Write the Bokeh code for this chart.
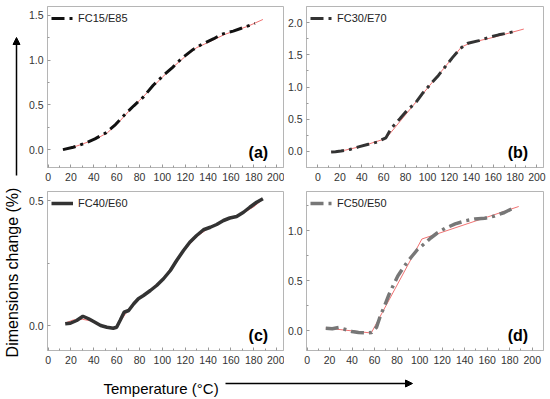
import math
from bokeh.plotting import figure
from bokeh.layouts import row, column
from bokeh.models import Range1d, FixedTicker, PrintfTickFormatter, Label, Arrow, NormalHead
from bokeh.embed import file_html
from bokeh.resources import INLINE
from bokeh.core.properties import value

FONT = "Liberation Sans"

# ---------------- data ----------------
x_ticks = [0, 20, 40, 60, 80, 100, 120, 140, 160, 180, 200]

a_x = [13, 22, 32, 41, 51, 59, 67, 75, 83.5, 92, 101, 109, 117, 127, 135, 145, 152, 162, 172, 181]
a_y = [0.0, 0.026, 0.07, 0.12, 0.19, 0.28, 0.39, 0.49, 0.59, 0.72, 0.83, 0.92, 1.02, 1.12, 1.18, 1.24, 1.29, 1.325, 1.37, 1.41]
a_fit_x = [13, 25, 35, 45, 52, 60, 70, 80, 90, 100, 110, 120, 130, 137, 145, 155, 165, 175, 188]
a_fit_y = [0.0, 0.04, 0.085, 0.14, 0.19, 0.28, 0.42, 0.55, 0.68, 0.81, 0.93, 1.04, 1.14, 1.18, 1.23, 1.29, 1.335, 1.38, 1.455]

b_x = [12, 16, 21, 29, 37, 46, 54, 62, 67, 75, 82, 89, 95, 103, 110, 116, 123, 130, 137, 147, 156, 165, 174, 180]
b_y = [-0.01, -0.005, 0.005, 0.03, 0.07, 0.11, 0.145, 0.21, 0.36, 0.51, 0.65, 0.75, 0.89, 1.05, 1.18, 1.31, 1.46, 1.6, 1.68, 1.72, 1.77, 1.81, 1.84, 1.865]
b_fit_x = [12, 25, 40, 62, 131, 140, 160, 188]
b_fit_y = [-0.01, 0.02, 0.08, 0.2, 1.62, 1.69, 1.77, 1.9]

c_x = [15, 19.5, 25, 30.5, 35.5, 41, 46, 51.5, 57, 60, 63, 66.5, 70.5, 75, 79, 83.5, 89.5, 95, 101, 107,
       112.5, 118.5, 124, 130, 136, 142, 147.5, 153.5, 159, 165, 171, 176.5, 182.5, 188]
c_y = [0.007, 0.009, 0.02, 0.037, 0.027, 0.013, 0.0, -0.007, -0.011, -0.007, 0.02, 0.053, 0.06, 0.087, 0.107,
       0.12, 0.14, 0.16, 0.187, 0.22, 0.26, 0.30, 0.333, 0.36, 0.383, 0.393, 0.404, 0.42, 0.43, 0.436, 0.453,
       0.473, 0.493, 0.507]
c_fit_x = [15, 22, 30, 38, 46, 54, 60, 66, 72, 80, 90, 100, 110, 120, 130, 140, 150, 160, 170, 180, 188]
c_fit_y = [0.01, 0.022, 0.025, 0.018, 0.003, -0.01, -0.006, 0.035, 0.075, 0.11, 0.145, 0.185, 0.245, 0.305,
           0.355, 0.388, 0.41, 0.428, 0.447, 0.475, 0.505]

d_x = [16.6, 22.4, 28.2, 34.1, 39.9, 45.7, 53, 57.4, 61.7, 65.2, 69, 72.8, 76.9, 80.6, 85, 89.4, 93.7, 98.1,
       103.9, 109.8, 115.6, 122.9, 131.6, 140.3, 149, 157.8, 166.5, 175.3, 184]
d_y = [0.023, 0.017, 0.03, 0.01, -0.01, -0.02, -0.023, -0.02, 0.033, 0.15, 0.25, 0.36, 0.46, 0.545, 0.62, 0.69,
       0.75, 0.81, 0.865, 0.925, 0.975, 1.023, 1.066, 1.096, 1.115, 1.122, 1.145, 1.18, 1.23]
d_fit_x = [16.6, 57, 102, 188]
d_fit_y = [0.025, -0.025, 0.915, 1.24]

FRAME = "#b5b5b5"
RED = "#f07272"


def panel(width, height, mbl, mbr, mbt, mbb, xr, yr, yticks, yminor, letter,
          sx, sy, fx, fy, name, color, dash, lw):
    p = figure(width=width, height=height, x_range=Range1d(*xr), y_range=Range1d(*yr),
               output_backend="svg", toolbar_location=None,
               min_border_left=mbl, min_border_right=mbr, min_border_top=mbt, min_border_bottom=mbb)
    p.xgrid.visible = False
    p.ygrid.visible = False
    p.outline_line_color = FRAME
    p.background_fill_color = "white"
    p.border_fill_color = "white"
    x_minor = [v + 10 for v in x_ticks[:-1]]
    p.xaxis.ticker = FixedTicker(ticks=x_ticks, minor_ticks=x_minor)
    p.yaxis.ticker = FixedTicker(ticks=yticks, minor_ticks=yminor)
    p.yaxis.formatter = PrintfTickFormatter(format="%.1f")
    for ax in (p.xaxis, p.yaxis):
        ax.axis_line_color = FRAME
        ax.major_tick_line_color = "#999999"
        ax.minor_tick_line_color = "#999999"
        ax.major_tick_in = 3
        ax.major_tick_out = 0
        ax.minor_tick_in = 2
        ax.minor_tick_out = 0
        ax.major_label_text_font = FONT
        ax.major_label_text_font_size = "10.5px"
        ax.major_label_text_color = "#333333"
        ax.major_label_standoff = 4
    p.xaxis.major_label_standoff = 5

    p.line(fx, fy, line_color=RED, line_width=1)
    p.line(sx, sy, line_color=color, line_width=lw, line_dash=dash, legend_label=name)

    lg = p.legend[0]
    lg.location = "top_left"
    lg.border_line_alpha = 0
    lg.background_fill_alpha = 0
    lg.label_text_font = FONT
    lg.label_text_font_size = "11px"
    lg.label_text_color = "#222222"
    lg.glyph_width = 22
    lg.glyph_height = 10
    lg.label_height = 16
    lg.label_standoff = 5
    lg.padding = 2
    lg.margin = 2
    lg.spacing = 0

    xspan = xr[1] - xr[0]
    yspan = yr[1] - yr[0]
    p.add_layout(Label(x=xr[1] - 0.065 * xspan, y=yr[0] + 0.042 * yspan, text=letter,
                       text_font=FONT, text_font_style="bold", text_font_size="16px",
                       text_color="black", text_align="right", text_baseline="bottom"))
    return p


# top row: frames at y 6..167 ; bottom row: frames at y 191..350
pa = panel(260, 188, 23, 1, 6, 21, (-0.5, 206), (-0.2, 1.6), [0, 0.5, 1.0, 1.5], [0.25, 0.75, 1.25],
           "(a)", a_x, a_y, a_fit_x, a_fit_y, "FC15/E85", "#111111", "13 5 3 5", 3)
pb = panel(265, 188, 21, 6, 6, 21, (-10.5, 206), (-0.25, 2.25), [0, 0.5, 1.0, 1.5, 2.0],
           [0.25, 0.75, 1.25, 1.75], "(b)", b_x, b_y, b_fit_x, b_fit_y, "FC30/E70", "#333333", "13 5 3 5", 3)
pc = panel(260, 180, 23, 1, 3, 18, (-0.5, 206), (-0.1, 0.536), [0, 0.5], [0.25],
           "(c)", c_x, c_y, c_fit_x, c_fit_y, "FC40/E60", "#333333", "solid", 3.5)
pd = panel(265, 180, 21, 6, 3, 18, (-0.5, 210), (-0.2, 1.39), [0, 0.5, 1.0], [0.25, 0.75, 1.25],
           "(d)", d_x, d_y, d_fit_x, d_fit_y, "FC50/E50", "#777777", "13 5 3 5", 3.5)

# ---------------- decoration strips (pixel-space ranges) ----------------
left = figure(width=24, height=368, x_range=Range1d(0, 24), y_range=Range1d(368, 0),
              output_backend="svg", toolbar_location=None, x_axis_type=None, y_axis_type=None,
              min_border=0)
left.outline_line_color = None
left.xgrid.visible = False
left.ygrid.visible = False
left.add_layout(Arrow(end=NormalHead(size=7, fill_color="black", line_color="black"),
                      x_start=16, y_start=175, x_end=16, y_end=37,
                      line_color="black", line_width=1.5))
left.text(x=[12], y=[272], text=["Dimensions change (%)"], angle=math.pi / 2,
          text_align="center", text_baseline="middle", text_font=value(FONT),
          text_font_size="16px", text_color="black")

bottom = figure(width=549, height=30, x_range=Range1d(0, 549), y_range=Range1d(30, 0),
                output_backend="svg", toolbar_location=None, x_axis_type=None, y_axis_type=None,
                min_border=0)
bottom.outline_line_color = None
bottom.xgrid.visible = False
bottom.ygrid.visible = False
bottom.text(x=[103], y=[20], text=["Temperature (°C)"], text_align="left", text_baseline="middle",
            text_font=value(FONT), text_font_size="15px", text_color="black")
bottom.add_layout(Arrow(end=NormalHead(size=7, fill_color="black", line_color="black"),
                        x_start=225, y_start=15, x_end=412, y_end=15,
                        line_color="black", line_width=1.5))

layout = column(row(left, column(row(pa, pb), row(pc, pd))), bottom)

open("out.html", "w").write(file_html(layout, INLINE))
